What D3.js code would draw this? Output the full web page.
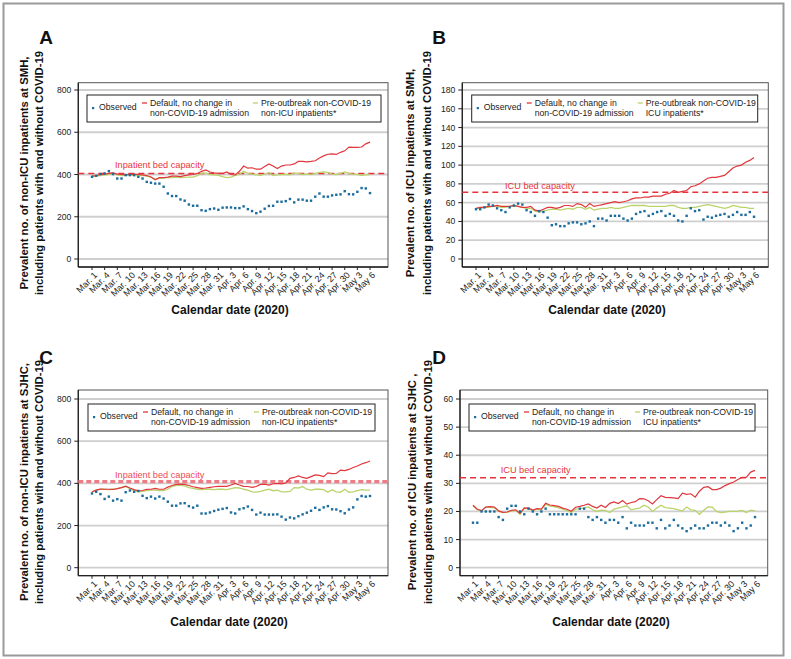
<!DOCTYPE html>
<html><head><meta charset="utf-8">
<script src="https://cdn.jsdelivr.net/npm/d3@7"></script>
<style>body{margin:0;background:#fff} svg{display:block} text{font-family:"Liberation Sans",Arial,Helvetica,sans-serif}</style>
</head><body><svg id="c" width="791" height="659"></svg>
<script>
// ---------- DATA ----------
const tickLabels = ["Mar. 1","Mar. 4","Mar. 7","Mar. 10","Mar. 13","Mar. 16","Mar. 19","Mar. 22","Mar. 25","Mar. 28","Mar. 31","Apr. 3","Apr. 6","Apr. 9","Apr. 12","Apr. 15","Apr. 18","Apr. 21","Apr. 24","Apr. 27","Apr. 30","May 3","May 6"];
const tickEvery = 3;
const nDays = 67;

const legendLabels = ["Observed", ["Default, no change in","non-COVID-19 admission"]];
const preLabelNonIcu = ["Pre-outbreak non-COVID-19","non-ICU inpatients*"];
const preLabelIcu = ["Pre-outbreak non-COVID-19","ICU inpatients*"];

// Panel A: SMH non-ICU
const smhNonIcuObserved = [389,394,402,405,416,402,381,381,397,397,397,389,381,365,361,357,357,342,310,298,298,282,276,258,252,252,231,228,236,239,233,243,244,244,241,241,249,236,227,217,224,238,251,252,271,271,274,284,268,281,281,276,276,295,310,295,295,301,304,306,321,307,306,318,336,334,312];
const smhNonIcuDefault = [392,395,400,402,405,408,402,400,398,400,402,400,398,395,388,375,385,385,388,392,392,390,395,398,400,405,415,422,412,408,405,405,412,400,398,415,440,430,432,425,425,438,450,440,428,440,445,445,450,462,462,460,462,465,478,488,496,498,495,505,512,530,528,528,530,545,553];
const smhNonIcuPre = [390,393,395,398,400,405,398,395,396,398,395,396,395,392,388,378,382,383,385,385,388,385,386,388,388,395,405,408,400,398,396,390,385,388,396,400,415,405,402,398,396,402,410,395,398,400,400,398,408,405,400,402,400,405,410,412,410,402,400,405,412,405,402,400,396,398,400];
const smhNonIcuCapacity = 405;

// Panel B: SMH ICU
const smhIcuObserved = [53,53,55,58,57,54,52,50,55,57,59,58,52,50,46,51,50,44,36,37,35,35,38,39,39,37,38,40,35,43,43,41,46,46,46,43,41,43,48,50,51,46,48,50,51,46,48,46,41,40,46,54,51,52,42,45,44,46,47,48,45,47,50,47,47,50,45];
const smhIcuDefault = [54,55,55,56,56,57,56,56,56,57,56,55,55,56,52,51,53,55,55,54,55,57,57,56,59,58,55,59,56,57,58,59,60,61,60,61,62,64,65,65,66,66,67,67,67,69,70,73,71,72,73,77,78,80,83,86,87,87,88,89,93,97,99,100,103,105,108];
const smhIcuPre = [54,54,55,55,56,56,55,55,56,56,56,55,54,54,51,50,51,52,53,53,52,53,54,53,55,55,53,55,52,53,54,54,55,54,54,55,56,57,57,57,57,56,56,56,56,56,57,57,55,54,54,55,55,56,57,58,57,56,55,54,55,57,56,55,55,54,54];
const smhIcuCapacity = 71;

// Panel C: SJHC non-ICU
const sjhcNonIcuObserved = [352,360,349,326,337,318,325,318,358,366,360,364,341,330,337,328,337,328,313,294,294,305,306,292,285,294,257,257,262,269,275,279,283,262,257,277,282,290,274,252,261,252,252,252,253,242,228,238,234,244,253,261,270,284,274,286,292,277,276,268,258,276,286,324,340,337,340];
const sjhcNonIcuDefault = [360,368,373,372,372,371,375,380,387,378,370,364,366,371,372,376,372,372,382,390,395,396,395,390,384,380,376,378,381,384,386,386,386,392,400,392,386,385,381,385,395,396,392,398,400,398,402,424,428,435,428,424,432,440,438,432,450,446,447,463,460,466,475,482,492,498,506];
const sjhcNonIcuPre = [360,368,372,372,370,372,375,380,385,375,365,360,362,366,368,368,366,366,372,385,390,390,388,380,376,372,370,372,372,370,372,372,370,375,380,378,372,368,360,358,362,368,372,365,368,360,360,362,380,378,385,372,368,372,372,370,358,370,360,358,372,358,360,365,370,368,368];
const sjhcNonIcuCapacity = 408;

// Panel D: SJHC ICU
const sjhcIcuObserved = [16,16,20,20,20,20,18,17,21,22,22,20,19,21,20,19,20,21,19,19,19,19,19,19,19,21,21,18,17,18,17,16,17,17,16,18,14,16,15,15,15,16,16,14,17,14,15,17,15,14,13,14,15,14,14,15,16,16,15,16,15,13,14,16,14,15,18];
const sjhcIcuDefault = [22.2,20.8,20.3,21.6,21.7,21.6,20.2,19.7,19.8,20.4,20.6,19.3,21.3,21.2,20.5,21,20.8,22.9,22.3,22.1,21.8,21.2,20.8,20.1,21.5,21.8,22.2,22.7,21.8,21.2,22.2,21.4,22.9,23.4,22.8,23.9,22.6,23.2,23.5,24.6,24.5,23.8,22.7,24.2,25.6,25.0,24.9,24.8,24.6,26.5,26.1,26.3,25.1,27.2,28.6,28.8,27.8,27.8,28.3,29.2,29.9,30.5,31.4,32.1,32.2,34.0,34.6];
const sjhcIcuPre = [22.0,20.6,20.2,21.5,21.5,21.3,20.0,19.6,19.7,20.2,20.4,19.0,21.0,21.0,20.2,20.8,20.6,22.6,21.9,21.7,21.3,20.8,20.3,19.6,20.8,21.0,21.2,21.6,20.6,20.0,20.5,20.4,19.6,20.8,21.2,21.6,22.0,20.6,20.9,21.2,22.2,21.6,20.0,21.2,22.2,21.4,21.2,21.0,20.6,20.2,21.6,20.6,20.4,19.0,20.4,21.6,21.5,20.0,19.6,19.8,20.0,20.0,20.1,20.4,19.6,20.5,20.2];
const sjhcIcuCapacity = 32;

// ---------- STYLE / LAYOUT ----------
const C_OBS = "#1c6c9c", C_DEF = "#e0363c", C_PRE = "#b9d46a", C_CAP = "#e8333b";
const FONT_TICK = 8.6, FONT_XTICK = 9, FONT_LEG = 8.7, FONT_TITLE = 12, FONT_YTITLE = 11.3;

const panels = [
  {letter:"A", obs:smhNonIcuObserved, def:smhNonIcuDefault, pre:smhNonIcuPre, cap:smhNonIcuCapacity,
   capLabel:"Inpatient bed capacity", yTicks:d3.range(0,801,200), preLabel:preLabelNonIcu,
   yTitle:["Prevalent no. of non-ICU inpatients at SMH,","including patients with and without COVID-19"],
   L:{fl:78.3, fr:388, ft:82.7, fb:267, dx0:92, dx1:370, y0:259, yTop:90, lx:87, ly:95, lw:294, lh:27,
      capX:115, capY:168, xtX:230, xtY:314, yt1:24, yt2:39.3, ytC:173, lX:46, lY:44}, capStyle:"normal"},
  {letter:"B", obs:smhIcuObserved, def:smhIcuDefault, pre:smhIcuPre, cap:smhIcuCapacity,
   capLabel:"ICU bed capacity", yTicks:d3.range(0,181,20), preLabel:preLabelIcu,
   yTitle:["Prevalent no. of ICU inpatients at SMH,","including patients with and without COVID-19"],
   L:{fl:462.3, fr:768.3, ft:82.7, fb:267, dx0:476, dx1:754, y0:259, yTop:90, lx:471.7, ly:95, lw:286, lh:27,
      capX:505, capY:189, xtX:607, xtY:314, yt1:410, yt2:427.3, ytC:173, lX:439, lY:44}, capStyle:"normal"},
  {letter:"C", obs:sjhcNonIcuObserved, def:sjhcNonIcuDefault, pre:sjhcNonIcuPre, cap:sjhcNonIcuCapacity,
   capLabel:"Inpatient bed capacity", yTicks:d3.range(0,801,200), preLabel:preLabelNonIcu,
   yTitle:["Prevalent no. of non-ICU inpatients at SJHC,","including patients with and without COVID-19"],
   L:{fl:78.3, fr:388, ft:390, fb:575.7, dx0:92, dx1:370, y0:567.7, yTop:399, lx:88, ly:404, lw:287, lh:27,
      capX:115, capY:477.5, xtX:229, xtY:626, yt1:24, yt2:39.3, ytC:482, lX:46, lY:364}, capStyle:"thick"},
  {letter:"D", obs:sjhcIcuObserved, def:sjhcIcuDefault, pre:sjhcIcuPre, cap:sjhcIcuCapacity,
   capLabel:"ICU bed capacity", yTicks:d3.range(0,61,10), preLabel:preLabelIcu,
   yTitle:["Prevalent no. of ICU inpatients at SJHC ,","including patients with and without COVID-19"],
   L:{fl:460, fr:767.7, ft:390, fb:575.7, dx0:473, dx1:755, y0:567.7, yTop:399, lx:469, ly:404, lw:286, lh:27,
      capX:500.7, capY:473, xtX:611, xtY:626, yt1:411.7, yt2:428.3, ytC:482, lX:439, lY:364}, capStyle:"normal"}
];

const svg = d3.select("#c");
svg.append("rect").attr("x",3.5).attr("y",3.5).attr("width",780).attr("height",652)
   .attr("fill","none").attr("stroke","#9a9a9a").attr("stroke-width",2);

panels.forEach(p => {
  const L = p.L;
  const g = svg.append("g");
  const days = d3.range(nDays);
  const x = d3.scalePoint().domain(days).range([L.dx0, L.dx1]);
  const yMax = p.yTicks[p.yTicks.length-1];
  const y = d3.scaleLinear().domain([0, yMax]).range([L.y0, L.yTop]);

  // gridlines
  g.selectAll(".grid").data(p.yTicks).join("line")
    .attr("x1", L.fl).attr("x2", L.fr).attr("y1", d=>y(d)).attr("y2", d=>y(d))
    .attr("stroke","#cfcfcf").attr("stroke-width",1.8);

  // frame
  g.append("rect").attr("x",L.fl).attr("y",L.ft).attr("width",L.fr-L.fl).attr("height",L.fb-L.ft)
    .attr("fill","none").attr("stroke","#555").attr("stroke-width",1);
  g.append("line").attr("x1",L.fl).attr("x2",L.fl).attr("y1",L.ft).attr("y2",L.fb).attr("stroke","#222").attr("stroke-width",1.3);
  g.append("line").attr("x1",L.fl).attr("x2",L.fr).attr("y1",L.fb).attr("y2",L.fb).attr("stroke","#222").attr("stroke-width",1.3);

  // y axis ticks + labels
  g.selectAll(".yt").data(p.yTicks).join("line")
    .attr("x1",L.fl-4).attr("x2",L.fl).attr("y1",d=>y(d)).attr("y2",d=>y(d)).attr("stroke","#222");
  g.selectAll(".yl").data(p.yTicks).join("text")
    .attr("x",L.fl-7).attr("y",d=>y(d)).attr("dy","0.35em").attr("text-anchor","end")
    .attr("font-size",FONT_TICK).attr("fill","#222").text(d=>d);

  // x ticks + labels
  const tickDays = tickLabels.map((t,i)=>i*tickEvery);
  g.selectAll(".xt").data(tickDays).join("line")
    .attr("x1",d=>x(d)).attr("x2",d=>x(d)).attr("y1",L.fb).attr("y2",L.fb+3).attr("stroke","#222");
  g.selectAll(".xl").data(tickLabels).join("text")
    .attr("transform",(t,i)=>`translate(${x(tickDays[i])+1},${L.fb+4}) rotate(-45)`)
    .attr("text-anchor","end").attr("dy","0.75em").attr("font-size",FONT_XTICK).attr("fill","#222").text(t=>t);

  // capacity line
  const thick = p.capStyle==="thick";
  g.append("line").attr("x1",L.fl).attr("x2",L.fr).attr("y1",y(p.cap)).attr("y2",y(p.cap))
    .attr("stroke", thick ? "#ee7c85" : C_CAP).attr("stroke-width", thick?3.2:1.5)
    .attr("stroke-dasharray", thick ? "5,3" : "6,4");
  g.append("text").attr("x",L.capX).attr("y",L.capY).attr("font-size",9.2)
    .attr("fill", thick ? "#ec4a55" : C_CAP).text(p.capLabel);

  // series
  const line = d3.line().x((d,i)=>x(i)).y(d=>y(d));
  g.append("path").datum(p.pre).attr("d",line).attr("fill","none").attr("stroke",C_PRE).attr("stroke-width",1.3);
  g.append("path").datum(p.def).attr("d",line).attr("fill","none").attr("stroke",C_DEF).attr("stroke-width",1.2);
  g.selectAll(".obs").data(p.obs).join("rect")
    .attr("x",(d,i)=>x(i)-1.2).attr("y",d=>y(d)-1.2).attr("width",2.4).attr("height",2.4).attr("fill",C_OBS);

  // legend
  const lg = g.append("g").attr("transform",`translate(${L.lx},${L.ly})`);
  lg.append("rect").attr("width",L.lw).attr("height",L.lh).attr("fill","#fff").attr("stroke","#222").attr("stroke-width",1);
  lg.append("rect").attr("x",5).attr("y",12).attr("width",2.2).attr("height",2.2).attr("fill",C_OBS);
  lg.append("text").attr("x",12).attr("y",14.5).attr("font-size",FONT_LEG).attr("fill","#222").text(legendLabels[0]);
  lg.append("line").attr("x1",55).attr("x2",60).attr("y1",8).attr("y2",8).attr("stroke",C_DEF).attr("stroke-width",1.3);
  lg.append("text").attr("x",63).attr("y",11).attr("font-size",FONT_LEG).attr("fill","#222").text(legendLabels[1][0]);
  lg.append("text").attr("x",63).attr("y",21).attr("font-size",FONT_LEG).attr("fill","#222").text(legendLabels[1][1]);
  lg.append("line").attr("x1",166).attr("x2",171).attr("y1",8).attr("y2",8).attr("stroke",C_PRE).attr("stroke-width",1.3);
  lg.append("text").attr("x",174).attr("y",11).attr("font-size",FONT_LEG).attr("fill","#222").text(p.preLabel[0]);
  lg.append("text").attr("x",174).attr("y",21).attr("font-size",FONT_LEG).attr("fill","#222").text(p.preLabel[1]);

  // axis titles
  g.append("text").attr("x",L.xtX).attr("y",L.xtY).attr("text-anchor","middle")
    .attr("font-size",FONT_TITLE).attr("font-weight","bold").attr("fill","#111").text("Calendar date (2020)");
  [L.yt1, L.yt2].forEach((cx,i)=>{
    g.append("text").attr("transform",`translate(${cx},${L.ytC}) rotate(-90)`).attr("text-anchor","middle")
      .attr("dy","0.35em").attr("font-size",FONT_YTITLE).attr("font-weight","bold").attr("fill","#111").text(p.yTitle[i]);
  });

  // panel letter
  g.append("text").attr("x",L.lX).attr("y",L.lY).attr("text-anchor","middle")
    .attr("font-size",19).attr("font-weight","bold").attr("fill","#111").text(p.letter);
});
</script></body></html>
